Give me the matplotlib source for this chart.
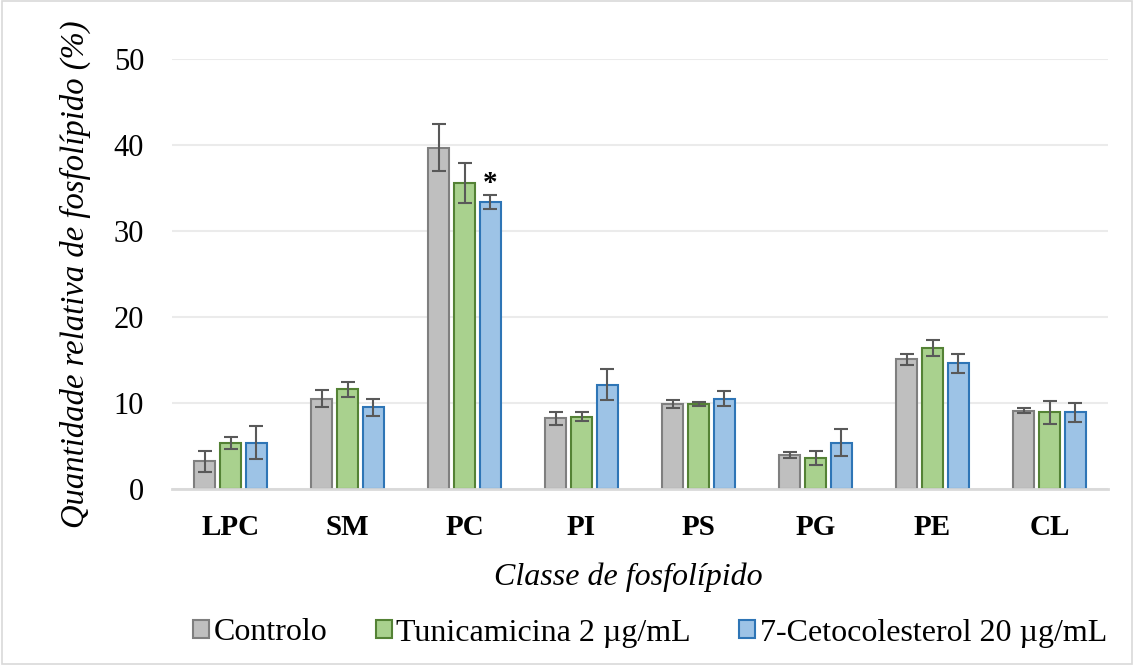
import numpy as np
import matplotlib.pyplot as plt
from matplotlib.patches import Rectangle

categories = ['LPC', 'SM', 'PC', 'PI', 'PS', 'PG', 'PE', 'CL']
series_names = ['Controlo', 'Tunicamicina 2 µg/mL', '7-Cetocolesterol 20 µg/mL']
controlo = [3.2, 10.5, 39.7, 8.2, 9.9, 4.0, 15.1, 9.1]
controlo_err = [1.2, 1.0, 2.7, 0.8, 0.5, 0.35, 0.65, 0.3]
tunicamicina = [5.4, 11.6, 35.6, 8.4, 9.9, 3.6, 16.4, 8.9]
tunicamicina_err = [0.7, 0.9, 2.3, 0.5, 0.2, 0.8, 0.9, 1.3]
cetocolesterol = [5.4, 9.5, 33.4, 12.1, 10.5, 5.4, 14.6, 8.9]
cetocolesterol_err = [1.9, 1.0, 0.8, 1.8, 0.9, 1.6, 1.1, 1.1]
y_ticks = [0, 10, 20, 30, 40, 50]

FILL = ['#BFBFBF', '#A9D18E', '#9DC3E6']
EDGE = ['#7F7F7F', '#548235', '#2E75B6']
C_ERR = '#595959'

plt.rcParams['font.family'] = ['Liberation Serif', 'DejaVu Serif']

fig = plt.figure(figsize=(11.34, 6.65), dpi=100)
ax = fig.add_axes([172 / 1134, 1 - 489 / 665, 936 / 1134, 430 / 665])

x = np.arange(len(categories))
step = 0.22
width = 0.18
values = [controlo, tunicamicina, cetocolesterol]
errors = [controlo_err, tunicamicina_err, cetocolesterol_err]
for i in range(3):
  ax.bar(x + (i - 1) * step, values[i], width, color=FILL[i], edgecolor=EDGE[i],
         linewidth=1.5, label=series_names[i], zorder=3)
  ax.errorbar(x + (i - 1) * step, values[i], yerr=errors[i], fmt='none',
              ecolor=C_ERR, elinewidth=1.5, capsize=5, capthick=1.5, zorder=4)

# significance mark over PC / 7-Cetocolesterol
pc = categories.index('PC')
ax.text(pc + step, cetocolesterol[pc] + cetocolesterol_err[pc] - 0.3, '*',
        ha='center', va='bottom', fontsize=21, fontweight='bold')

ax.set_xlim(-0.5, len(categories) - 0.5)
ax.set_ylim(0, 50)
ax.set_yticks(y_ticks)
ax.set_xticks(x)
ax.set_xticklabels(categories, fontsize=21, fontweight='bold')
ax.tick_params(axis='y', labelsize=22, length=0, pad=20)
ax.tick_params(axis='x', length=0, pad=18)
ax.grid(axis='y', color='#EBEBEB', linewidth=1.5, zorder=0)
for s in ['top', 'right', 'left']:
  ax.spines[s].set_visible(False)
ax.spines['bottom'].set_color('#D9D9D9')
ax.spines['bottom'].set_linewidth(2)
ax.spines['bottom'].set_zorder(5)

fig.text(75 / 1134, 1 - 274 / 665, 'Quantidade relativa de fosfolípido (%)', rotation=90,
         ha='center', va='center', fontsize=23.5, style='italic')
fig.text(628 / 1134, 1 - 577 / 665, 'Classe de fosfolípido', ha='center', va='center',
         fontsize=23, style='italic')

fig.legend(loc='center', bbox_to_anchor=(650 / 1134, 1 - 633 / 665), ncol=3, frameon=False,
           fontsize=23, handlelength=0.5, handleheight=0.5, handletextpad=0.15,
           columnspacing=1.5)

fig.patches.append(Rectangle((0.002, 0.002), 0.996, 0.996, transform=fig.transFigure,
                             fill=False, edgecolor='#D9D9D9', linewidth=1.2))

fig.savefig('out.png', dpi=100)
